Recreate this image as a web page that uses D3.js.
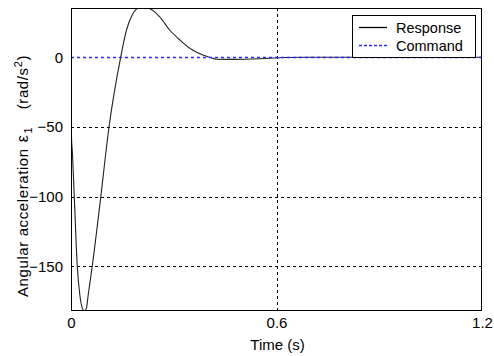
<!DOCTYPE html>
<html><head><meta charset="utf-8">
<script src="https://cdn.jsdelivr.net/npm/d3@7"></script>
<style>
html,body{margin:0;padding:0;background:#fff;}
svg{display:block;}
text{font-family:"Liberation Sans",Arial,sans-serif;fill:#000;}
</style></head>
<body>
<svg id="c" width="494" height="356"></svg>
<script>
// Data
const time =     [0,    0.0015, 0.004, 0.0096, 0.0183, 0.026, 0.033, 0.039, 0.045, 0.050, 0.062, 0.087, 0.111, 0.145, 0.162, 0.178, 0.195, 0.211, 0.228, 0.259, 0.288, 0.318, 0.355, 0.385, 0.405, 0.425, 0.46, 0.527, 0.57, 0.623, 0.7, 0.9, 1.2];
const response = [-36,  -58,    -68,   -100,   -150,   -171,  -180,  -182.1,-180,  -171,  -150,  -100,  -50,   0,     19.6,  30,    35.0,  35.4,  35.0,  29,    19.6,  12.4,  5.2,   1.6,   0,     -1.4,  -1.5, -1.2,  -0.8, -0.1,  0,   0,   0];
const commandT = [0, 1.2];
const command  = [0, 0];
const xTicks = [0, 0.6, 1.2];
const xTickLabels = ["0", "0.6", "1.2"];
const yTicks = [-150, -100, -50, 0];
const yTickLabels = ["\u2212150", "\u2212100", "\u221250", "0"];
const xDomain = [0, 1.2];
const yDomain = [-182.1, 35.4];

const svg = d3.select("#c");
const L = 71, R = 482, T = 8, B = 311;
const x = d3.scaleLinear().domain(xDomain).range([L, R]);
const y = d3.scaleLinear().domain(yDomain).range([B, T]);

svg.append("defs").append("clipPath").attr("id","clip")
  .append("rect").attr("x",L).attr("y",T).attr("width",R-L).attr("height",B-T);

// grid (zero line is covered by the command line)
const g = svg.append("g");
g.selectAll(".gx").data(xTicks.filter(d => d > xDomain[0] && d < xDomain[1])).enter().append("line")
  .attr("x1", d => Math.round(x(d))+0.5).attr("x2", d => Math.round(x(d))+0.5)
  .attr("y1", T).attr("y2", B)
  .attr("stroke","#000").attr("stroke-width",1).attr("stroke-dasharray","3,3");
g.selectAll(".gy").data(yTicks.filter(d => d !== 0)).enter().append("line")
  .attr("y1", d => Math.round(y(d))+0.5).attr("y2", d => Math.round(y(d))+0.5)
  .attr("x1", L).attr("x2", R)
  .attr("stroke","#000").attr("stroke-width",1).attr("stroke-dasharray","3,3");

// response
svg.append("path").attr("clip-path","url(#clip)")
  .datum(time.map((t,i)=>[t, response[i]]))
  .attr("d", d3.line().x(d=>x(d[0])).y(d=>y(d[1])).curve(d3.curveMonotoneX))
  .attr("fill","none").attr("stroke","#222").attr("stroke-width",1.1);

// command (drawn on top)
svg.append("path").attr("clip-path","url(#clip)")
  .datum(commandT.map((t,i)=>[t, command[i]]))
  .attr("d", d3.line().x(d=>x(d[0])).y(d=>Math.round(y(d[1]))+0.5))
  .attr("fill","none").attr("stroke","#2a2aff").attr("stroke-width",1.3).attr("stroke-dasharray","3,3");

// axes box
svg.append("rect").attr("x",L+0.5).attr("y",T+0.5).attr("width",R-L-1).attr("height",B-T-1)
  .attr("fill","none").attr("stroke","#000").attr("stroke-width",1);

// axes with d3 axis for labels
const xAxis = d3.axisBottom(x).tickValues(xTicks).tickFormat((d,i)=>xTickLabels[i]).tickSize(0).tickPadding(6);
const xa = svg.append("g").attr("transform",`translate(0,${B})`).call(xAxis);
xa.select(".domain").remove();
xa.selectAll("text").style("font-size","15px").attr("font-family",null);

const yAxis = d3.axisLeft(y).tickValues(yTicks).tickFormat((d,i)=>yTickLabels[i]).tickSize(0).tickPadding(8);
const ya = svg.append("g").attr("transform",`translate(${L},0)`).call(yAxis);
ya.select(".domain").remove();
ya.selectAll("text").style("font-size","15px").attr("font-family",null);

// axis titles
svg.append("text").attr("x", (L+R)/2 + 1).attr("y", 350).attr("text-anchor","middle")
  .style("font-size","15px").text("Time (s)");

const yl = svg.append("text").attr("transform","translate(28,297) rotate(-90)")
  .attr("text-anchor","start").style("font-size","15px").style("letter-spacing","0.6px");
yl.append("tspan").text("Angular acceleration");
yl.append("tspan").attr("dx",6).style("font-size","16px").text("ε");
yl.append("tspan").attr("dy",4).attr("dx",1).style("font-size","11px").text("1");
const yl2 = svg.append("text").attr("transform","translate(28,55) rotate(-90)")
  .attr("text-anchor","end").style("font-size","15px").style("letter-spacing","0.6px");
yl2.append("tspan").text("(rad/s");
yl2.append("tspan").attr("dy",-6).style("font-size","11px").text("2");
yl2.append("tspan").attr("dy",6).text(")");

// legend
const lg = svg.append("g");
lg.append("rect").attr("x",352.5).attr("y",15.5).attr("width",123).attr("height",42)
  .attr("fill","#fff").attr("stroke","#000").attr("stroke-width",1);
const items = [{name:"Response", color:"#000", dash:null, yy:27}, {name:"Command", color:"#2a2aff", dash:"3,2", yy:45}];
items.forEach(it => {
  lg.append("line").attr("x1",359).attr("x2",387).attr("y1",it.yy+0.5).attr("y2",it.yy+0.5)
    .attr("stroke",it.color).attr("stroke-width",1.3).attr("stroke-dasharray",it.dash);
  lg.append("text").attr("x",396).attr("y",it.yy+6).style("font-size","14.5px").text(it.name);
});
</script>
</body></html>
